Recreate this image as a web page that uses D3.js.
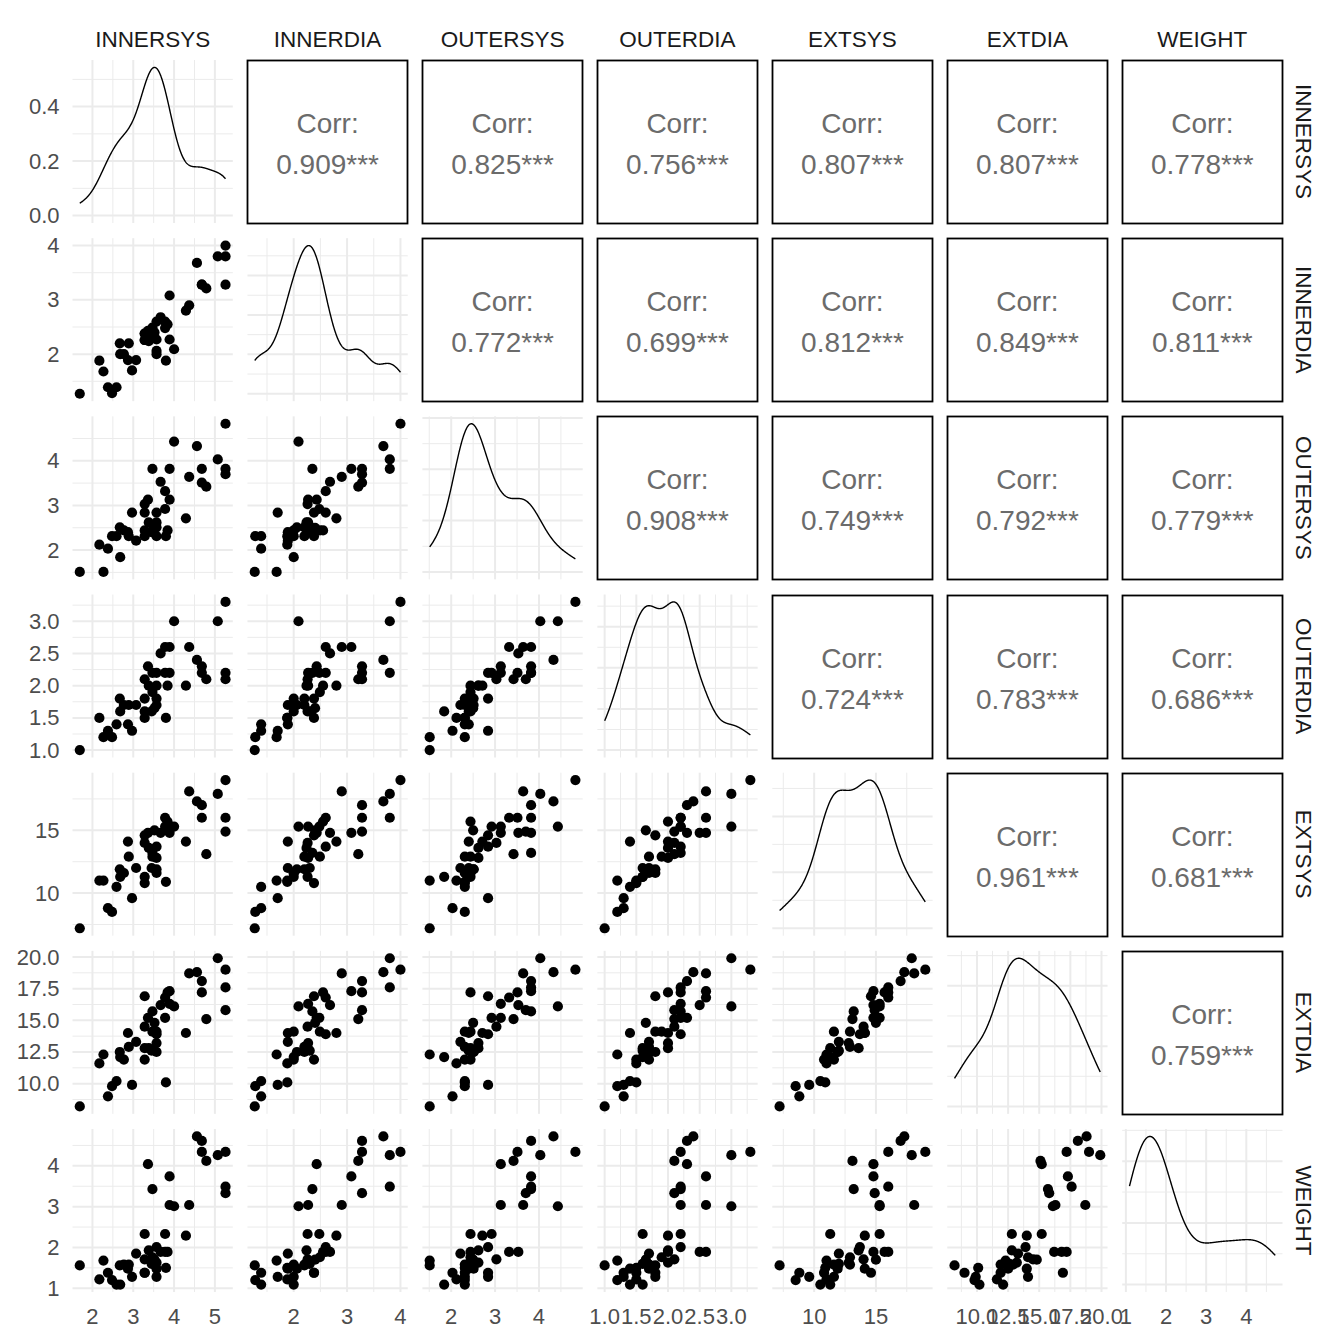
<!DOCTYPE html>
<html><head><meta charset="utf-8">
<script src="https://cdn.jsdelivr.net/npm/d3@7"></script>
<style>body{margin:0;background:#fff}svg{display:block;font-family:"Liberation Sans",Arial,sans-serif}</style>
</head><body>
<svg id="c" width="1344" height="1344"></svg>
<script>
// ---- data ----
const varNames = ["INNERSYS","INNERDIA","OUTERSYS","OUTERDIA","EXTSYS","EXTDIA","WEIGHT"];
const innersys = [1.69,2.17,2.27,2.38,2.48,2.59,2.67,2.68,2.77,2.87,2.89,2.97,3.07,3.28,3.28,3.28,3.28,3.36,3.38,3.47,3.47,3.57,3.57,3.57,3.57,3.67,3.78,3.78,3.80,3.84,3.89,3.89,4.00,4.29,4.37,4.56,4.68,4.68,4.79,5.07,5.26,5.26,5.26,3.45,3.52];
const innerdia = [1.27,1.88,1.68,1.39,1.28,1.39,2.20,2.00,2.00,1.89,2.20,1.70,1.89,2.38,2.26,2.26,2.38,2.43,2.24,2.35,2.49,2.60,2.27,2.06,2.00,2.68,2.60,2.48,1.88,2.55,3.08,2.27,2.09,2.80,2.90,3.68,3.28,3.28,3.21,3.80,4.00,3.80,3.28,2.30,2.40];
const outersys = [1.51,2.12,1.51,2.03,2.31,2.31,2.51,1.84,2.44,2.40,2.31,2.84,2.21,2.84,3.03,2.44,2.31,3.13,2.62,3.82,2.44,2.84,2.62,2.51,2.31,3.53,3.32,2.92,2.31,2.44,3.82,3.13,4.43,2.71,3.64,4.33,3.82,3.51,3.42,4.03,4.83,3.82,3.70,2.40,2.50];
const outerdia = [1.0,1.5,1.2,1.3,1.2,1.4,1.8,1.6,1.7,1.4,1.7,1.3,1.7,1.8,2.1,1.6,1.5,2.3,2.0,2.2,1.9,2.2,2.0,1.7,1.8,2.5,2.6,2.2,1.5,2.0,2.6,2.2,3.0,2.0,2.6,2.4,2.3,2.2,2.1,3.0,3.3,2.2,2.1,1.6,1.65];
const extsys = [7.2,11.0,11.0,8.8,8.5,10.5,11.9,11.3,11.6,14.1,12.9,9.6,12.0,14.6,14.0,11.3,10.8,14.8,13.6,13.2,12.9,13.7,12.8,11.9,11.6,14.8,16.0,15.3,10.9,15.7,14.8,15.3,15.3,14.1,18.1,17.3,17.0,16.0,13.1,17.9,19.0,16.0,14.9,12.0,15.0];
const extdia = [8.2,11.6,12.3,9.0,9.8,10.2,12.5,12.1,11.9,14.0,12.9,9.9,13.3,16.9,14.5,12.8,11.9,15.2,12.8,15.7,14.1,13.9,13.2,12.5,14.1,16.2,16.8,15.2,10.1,17.2,17.3,16.3,16.1,14.0,18.7,18.8,18.1,17.2,15.1,19.9,19.0,17.6,15.8,12.6,14.8];
const weight = [1.56,1.22,1.68,1.38,1.20,1.09,1.56,1.09,1.58,1.48,1.58,1.28,1.85,1.38,1.71,2.33,1.38,4.04,1.93,3.43,1.76,2.01,1.63,1.48,1.28,1.89,1.89,2.33,1.50,1.89,3.74,3.04,3.01,2.29,3.04,4.72,4.61,4.34,4.12,4.26,4.34,3.49,3.33,1.60,1.70];

const ticksInnersys = [2,3,4,5];
const ticksInnerdia = [2,3,4];
const ticksOutersys = [2,3,4];
const ticksOuterdia = [1.0,1.5,2.0,2.5,3.0];
const ticksExtsys = [10,15];
const ticksExtdia = [10.0,12.5,15.0,17.5,20.0];
const ticksWeight = [1,2,3,4];
const tickLabelsOuterdia = ["1.0","1.5","2.0","2.5","3.0"];
const tickLabelsExtdia = ["10.0","12.5","15.0","17.5","20.0"];
const ticksDensityRow1 = [0.0,0.2,0.4];
const tickLabelsDensityRow1 = ["0.0","0.2","0.4"];

const corrRow1 = ["0.909","0.825","0.756","0.807","0.807","0.778"];
const corrRow2 = ["0.772","0.699","0.812","0.849","0.811"];
const corrRow3 = ["0.908","0.749","0.792","0.779"];
const corrRow4 = ["0.724","0.783","0.686"];
const corrRow5 = ["0.961","0.681"];
const corrRow6 = ["0.759"];

// ---- build ----
const series = [innersys, innerdia, outersys, outerdia, extsys, extdia, weight];
const ticks = [ticksInnersys, ticksInnerdia, ticksOutersys, ticksOuterdia, ticksExtsys, ticksExtdia, ticksWeight];
const tickLabels = [ticksInnersys.map(String), ticksInnerdia.map(String), ticksOutersys.map(String), tickLabelsOuterdia, ticksExtsys.map(String), tickLabelsExtdia, ticksWeight.map(String)];
const corrRows = [corrRow1, corrRow2, corrRow3, corrRow4, corrRow5, corrRow6];

const L = 72.5, W = 160.3, HS = 174.95, T = 60, H = 163, VS = 178.17;
const n = varNames.length;
const svg = d3.select("#c");
const GRID = "#EBEBEB";

function expand(ext){ const r = ext[1]-ext[0]; return [ext[0]-0.05*r, ext[1]+0.05*r]; }
const xScales = series.map(s => d3.scaleLinear().domain(expand(d3.extent(s))).range([0, W]));
const yScales = series.map(s => d3.scaleLinear().domain(expand(d3.extent(s))).range([H, 0]));

function minors(major, dom){
  const out = [];
  const step = major.length > 1 ? major[1]-major[0] : 1;
  const all = [major[0]-step, ...major, major[major.length-1]+step];
  for (let i=0;i<all.length-1;i++){ const m=(all[i]+all[i+1])/2; if (m>=dom[0] && m<=dom[1]) out.push(m); }
  return out;
}

function kde(values){
  const nn = values.length;
  const sd = d3.deviation(values);
  const sorted = values.slice().sort(d3.ascending);
  const iqr = d3.quantileSorted(sorted,0.75) - d3.quantileSorted(sorted,0.25);
  const bw = 0.9 * Math.min(sd, iqr/1.34) * Math.pow(nn, -0.2);
  const [lo, hi] = d3.extent(values);
  const pts = [];
  for (let i=0;i<512;i++){
    const x = lo + (hi-lo)*i/511;
    let s = 0;
    for (const v of values){ const u=(x-v)/bw; s += Math.exp(-0.5*u*u); }
    pts.push([x, s/(nn*bw*Math.sqrt(2*Math.PI))]);
  }
  return pts;
}

function panelX(j){ return L + j*HS; }
function panelY(i){ return T + i*VS; }

for (let i=0;i<n;i++){
  for (let j=0;j<n;j++){
    const g = svg.append("g").attr("transform", `translate(${panelX(j)},${panelY(i)})`);
    const xs = xScales[j];
    if (j > i){
      const px = panelX(j), py = panelY(i);
      const x0 = Math.round(px)+0.5-px, y0 = Math.round(py)+0.5-py;
      g.append("rect").attr("x",x0).attr("y",y0).attr("width",Math.round(W)).attr("height",H)
        .attr("fill","#fff").attr("stroke","#000").attr("stroke-width",1.8);
      g.append("text").attr("x",W/2).attr("y",H/2-18).attr("text-anchor","middle")
        .attr("dominant-baseline","central").attr("font-size",28).attr("fill","#6B6B6B").text("Corr:");
      g.append("text").attr("x",W/2).attr("y",H/2+23).attr("text-anchor","middle")
        .attr("dominant-baseline","central").attr("font-size",28).attr("fill","#6B6B6B")
        .text(corrRows[i][j-i-1] + "***");
      continue;
    }
    let ys, yMaj;
    let dens = null;
    if (i === j){
      dens = kde(series[j]);
      const maxd = d3.max(dens, d => d[1]);
      ys = d3.scaleLinear().domain([-0.05*maxd, 1.05*maxd]).range([H,0]);
      yMaj = (i === 0) ? ticksDensityRow1 : ys.ticks(3).filter(t => t>=0);
    } else {
      ys = yScales[i];
      yMaj = ticks[i];
    }
    const xdom = xs.domain(), ydom = ys.domain();
    minors(ticks[j], xdom).forEach(v => g.append("line").attr("x1",xs(v)).attr("x2",xs(v)).attr("y1",0).attr("y2",H).attr("stroke",GRID).attr("stroke-width",1));
    minors(yMaj, ydom).forEach(v => g.append("line").attr("y1",ys(v)).attr("y2",ys(v)).attr("x1",0).attr("x2",W).attr("stroke",GRID).attr("stroke-width",1));
    ticks[j].filter(v=>v>=xdom[0]&&v<=xdom[1]).forEach(v => g.append("line").attr("x1",xs(v)).attr("x2",xs(v)).attr("y1",0).attr("y2",H).attr("stroke",GRID).attr("stroke-width",2));
    yMaj.filter(v=>v>=ydom[0]&&v<=ydom[1]).forEach(v => g.append("line").attr("y1",ys(v)).attr("y2",ys(v)).attr("x1",0).attr("x2",W).attr("stroke",GRID).attr("stroke-width",2));

    if (i === j){
      g.append("path").datum(dens)
        .attr("d", d3.line().x(d=>xs(d[0])).y(d=>ys(d[1])))
        .attr("fill","none").attr("stroke","#000").attr("stroke-width",1.4);
    } else {
      const xv = series[j], yv = series[i];
      g.selectAll("circle").data(d3.range(xv.length)).enter().append("circle")
        .attr("cx", k => xs(xv[k])).attr("cy", k => ys(yv[k])).attr("r", 5.1).attr("fill","#000");
    }
    if (j === 0){
      const labs = (i === 0) ? tickLabelsDensityRow1 : tickLabels[i];
      const vals = (i === 0) ? ticksDensityRow1 : ticks[i];
      vals.forEach((v,k) => {
        g.append("text").attr("x",-13).attr("y",ys(v)).attr("text-anchor","end")
          .attr("dominant-baseline","central").attr("font-size",22).attr("fill","#4D4D4D").text(labs[k]);
      });
    }
    if (i === n-1){
      ticks[j].forEach((v,k) => {
        g.append("text").attr("x",xs(v)).attr("y",H+32).attr("text-anchor","middle")
          .attr("font-size",22).attr("fill","#4D4D4D").text(tickLabels[j][k]);
      });
    }
  }
}

varNames.forEach((name,k) => {
  svg.append("text").attr("x", panelX(k)+W/2).attr("y", 47).attr("text-anchor","middle")
    .attr("font-size",22.5).attr("fill","#1A1A1A").text(name);
  const cy = panelY(k)+H/2;
  svg.append("text").attr("transform",`translate(1296,${cy}) rotate(90)`).attr("text-anchor","middle")
    .attr("font-size",22.5).attr("fill","#1A1A1A").text(name);
});
</script>
</body></html>
